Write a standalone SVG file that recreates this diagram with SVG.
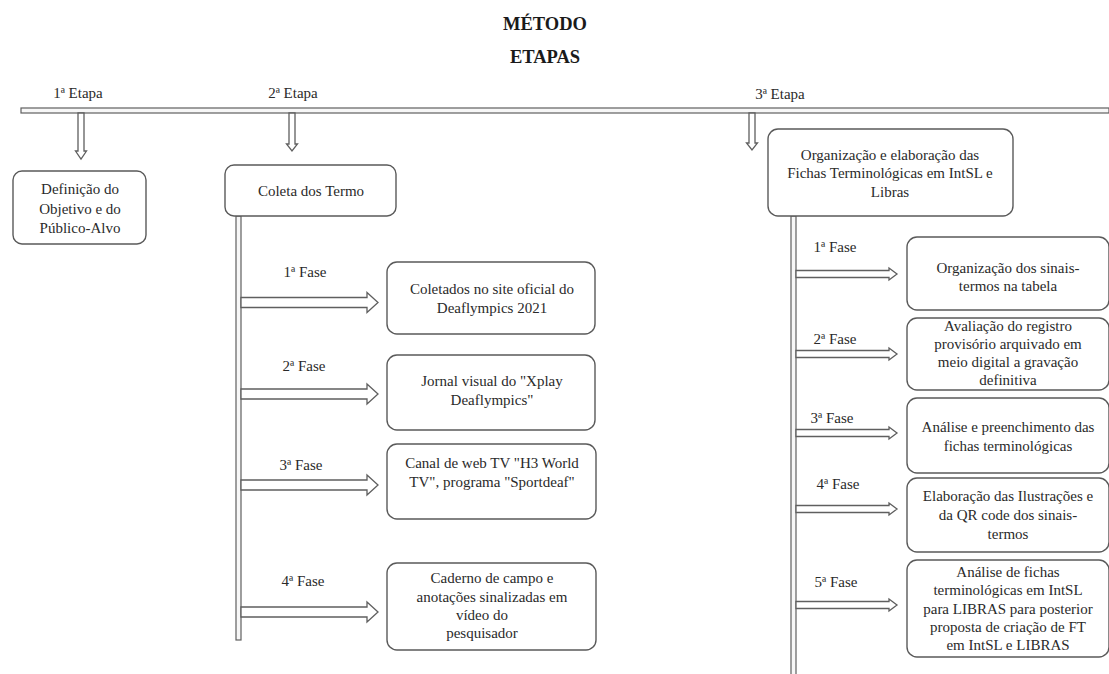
<svg xmlns="http://www.w3.org/2000/svg" width="1109" height="674" viewBox="0 0 1109 674">
<style>
  .t { font-family: "Liberation Serif", "Times New Roman", serif; font-size: 15px; fill: #2a2a2a; text-anchor: middle; }
  .h { font-family: "Liberation Serif", "Times New Roman", serif; font-size: 18.5px; font-weight: bold; fill: #1a1a1a; text-anchor: middle; }
  .box { fill: #ffffff; stroke: #5a5a5a; stroke-width: 1.4; }
  .bar { fill: #f7f7f7; stroke: #5f5f5f; stroke-width: 1.2; }
  .arr { fill: #ffffff; stroke: #5f5f5f; stroke-width: 1.3; stroke-linejoin: miter; }
</style>
<rect width="1109" height="674" fill="#ffffff"/>

<g id="title">
  <text class="h" x="545" y="30">MÉTODO</text>
  <text class="h" x="545" y="63">ETAPAS</text>
</g>

<g id="labels">
  <text class="t" x="78" y="98">1ª Etapa</text>
  <text class="t" x="293" y="98">2ª Etapa</text>
  <text class="t" x="780" y="99">3ª Etapa</text>
  <text class="t" x="305" y="277">1ª Fase</text>
  <text class="t" x="304" y="371">2ª Fase</text>
  <text class="t" x="301" y="470">3ª Fase</text>
  <text class="t" x="303" y="586">4ª Fase</text>
  <text class="t" x="835" y="252">1ª Fase</text>
  <text class="t" x="835" y="344">2ª Fase</text>
  <text class="t" x="832" y="423">3ª Fase</text>
  <text class="t" x="838" y="489">4ª Fase</text>
  <text class="t" x="836" y="587">5ª Fase</text>
</g>

<g id="connectors">
  <rect class="bar" x="21" y="108" width="1088" height="5"/>
  <rect class="bar" x="236" y="216" width="5" height="424"/>
  <rect class="bar" x="791" y="216" width="5" height="460"/>
  <!-- down arrows -->
  <polygon class="arr" points="78,113 84,113 84,151 86.5,151 81,159 75.5,151 78,151"/>
  <polygon class="arr" points="289,113 295,113 295,144 297.5,144 292,151 286.5,144 289,144"/>
  <polygon class="arr" points="749,113 755,113 755,143 757.5,143 752,150 746.5,143 749,143"/>
  <!-- middle right arrows -->
  <polygon class="arr" points="241,297.5 367,297.5 367,292.5 378,302.5 367,312.5 367,307.5 241,307.5"/>
  <polygon class="arr" points="241,389 367,389 367,384 378,394 367,404 367,399 241,399"/>
  <polygon class="arr" points="241,480 367,480 367,475 378,485 367,495 367,490 241,490"/>
  <polygon class="arr" points="241,607 367,607 367,602 378,612 367,622 367,617 241,617"/>
  <!-- right column arrows -->
  <polygon class="arr" points="796,270.5 889,270.5 889,268 897,274 889,280 889,277.5 796,277.5"/>
  <polygon class="arr" points="796,350.5 889,350.5 889,348 897,354 889,360 889,357.5 796,357.5"/>
  <polygon class="arr" points="796,429.5 889,429.5 889,427 897,433 889,439 889,436.5 796,436.5"/>
  <polygon class="arr" points="796,505.5 889,505.5 889,503 897,509 889,515 889,512.5 796,512.5"/>
  <polygon class="arr" points="796,601.5 889,601.5 889,599 897,605 889,611 889,608.5 796,608.5"/>
</g>

<g id="n_definicao">
  <rect class="box" x="13" y="171" width="133" height="73" rx="9"/>
  <text class="t" x="80" y="194">Definição  do</text>
  <text class="t" x="80" y="214">Objetivo  e do</text>
  <text class="t" x="80" y="233">Público-Alvo</text>
</g>

<g id="n_coleta">
  <rect class="box" x="225" y="165" width="171" height="51" rx="9"/>
  <text class="t" x="311" y="196">Coleta dos Termo</text>
</g>

<g id="n_organizacao">
  <rect class="box" x="768" y="129" width="245" height="87" rx="10"/>
  <text class="t" x="890" y="160">Organização  e elaboração  das</text>
  <text class="t" x="890" y="178">Fichas Terminológicas  em IntSL e</text>
  <text class="t" x="890" y="197">Libras</text>
</g>

<g id="n_fase2_1">
  <rect class="box" x="387" y="262" width="208" height="72" rx="10"/>
  <text class="t" x="492" y="294">Coletados no site oficial  do</text>
  <text class="t" x="492" y="313">Deaflympics  2021</text>
</g>

<g id="n_fase2_2">
  <rect class="box" x="387" y="355" width="208" height="75" rx="10"/>
  <text class="t" x="492" y="386">Jornal visual  do "Xplay</text>
  <text class="t" x="492" y="405">Deaflympics"</text>
</g>

<g id="n_fase2_3">
  <rect class="box" x="387" y="444" width="209" height="75" rx="10"/>
  <text class="t" x="492" y="468">Canal de web TV "H3 World</text>
  <text class="t" x="492" y="487">TV", programa  "Sportdeaf"</text>
</g>

<g id="n_fase2_4">
  <rect class="box" x="387" y="563" width="209" height="87" rx="10"/>
  <text class="t" x="492" y="583">Caderno de campo e</text>
  <text class="t" x="492" y="602">anotações  sinalizadas  em</text>
  <text class="t" x="482" y="620">vídeo  do</text>
  <text class="t" x="482" y="638">pesquisador</text>
</g>

<g id="n_fase3_1">
  <rect class="box" x="907" y="237" width="202" height="73" rx="10"/>
  <text class="t" x="1008" y="273">Organização  dos sinais-</text>
  <text class="t" x="1008" y="291">termos  na tabela</text>
</g>

<g id="n_fase3_2">
  <rect class="box" x="907" y="318" width="202" height="72" rx="10"/>
  <text class="t" x="1008" y="331">Avaliação  do registro</text>
  <text class="t" x="1008" y="349">provisório  arquivado  em</text>
  <text class="t" x="1008" y="367">meio  digital  a gravação</text>
  <text class="t" x="1008" y="385">definitiva</text>
</g>

<g id="n_fase3_3">
  <rect class="box" x="907" y="398" width="202" height="75" rx="10"/>
  <text class="t" x="1008" y="432">Análise  e preenchimento  das</text>
  <text class="t" x="1008" y="451">fichas  terminológicas</text>
</g>

<g id="n_fase3_4">
  <rect class="box" x="907" y="478" width="202" height="74" rx="10"/>
  <text class="t" x="1008" y="501">Elaboração  das Ilustrações  e</text>
  <text class="t" x="1008" y="520">da QR code  dos sinais-</text>
  <text class="t" x="1008" y="539">termos</text>
</g>

<g id="n_fase3_5">
  <rect class="box" x="907" y="560" width="202" height="97" rx="10"/>
  <text class="t" x="1008" y="577">Análise  de fichas</text>
  <text class="t" x="1008" y="595">terminológicas  em IntSL</text>
  <text class="t" x="1008" y="614">para LIBRAS para posterior</text>
  <text class="t" x="1008" y="632">proposta de criação  de FT</text>
  <text class="t" x="1008" y="650">em IntSL e LIBRAS</text>
</g>
</svg>
